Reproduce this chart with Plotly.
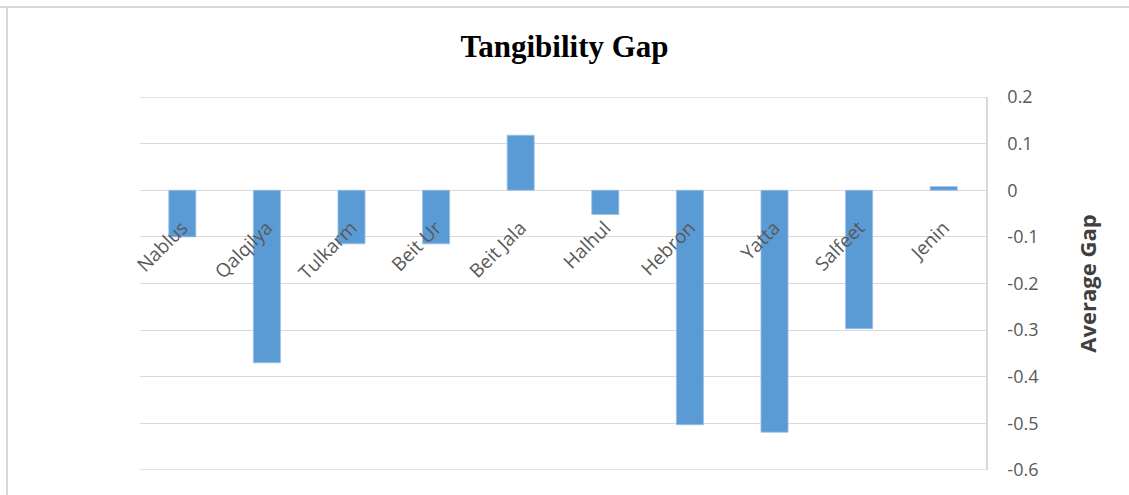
import plotly.graph_objects as go

categories = ["Nablus", "Qalqilya", "Tulkarm", "Beit Ur", "Beit Jala",
              "Halhul", "Hebron", "Yatta", "Salfeet", "Jenin"]
gap_values = [-0.10, -0.37, -0.115, -0.115, 0.118, -0.052, -0.503, -0.519, -0.297, 0.008]
y_tick_vals = [0.2, 0.1, 0, -0.1, -0.2, -0.3, -0.4, -0.5, -0.6]
y_tick_text = ["0.2", "0.1", "0", "-0.1", "-0.2", "-0.3", "-0.4", "-0.5", "-0.6"]

y_min, y_max = -0.6, 0.2

fig = go.Figure()
fig.add_trace(go.Bar(
    x=categories, y=gap_values,
    marker=dict(color="#5B9BD5", line=dict(color="#9DC3E6", width=0.8)),
    width=0.32,
))

grid_color = "#D9D9D9"
edge_grids = [dict(type="line", xref="paper", yref="y", x0=0, x1=1, y0=v, y1=v,
                   line=dict(color=grid_color, width=1.3), layer="below")
              for v in (y_max, y_min)]

fig.update_layout(
    width=1129, height=495,
    margin=dict(l=140, r=143, t=97, b=25),
    paper_bgcolor="white", plot_bgcolor="white",
    showlegend=False,
    title=dict(text="<b>Tangibility Gap</b>", x=0.5, xanchor="center",
               y=1 - 46 / 495, yanchor="middle",
               font=dict(family="Liberation Serif", size=31, color="black")),
    xaxis=dict(
        anchor="free", position=(0 - y_min) / (y_max - y_min),
        tickangle=-45, showgrid=False, zeroline=False, showline=False,
        ticks="outside", ticklen=18, tickcolor="rgba(0,0,0,0)",
        tickfont=dict(family="Open Sans", size=19, color="#595959"),
    ),
    yaxis=dict(
        side="right", range=[y_min, y_max],
        tickvals=y_tick_vals, ticktext=y_tick_text,
        showgrid=True, gridcolor=grid_color, gridwidth=1.3,
        zeroline=False, showline=True, linecolor=grid_color, linewidth=1.5,
        ticklabelstandoff=16,
        tickfont=dict(family="Open Sans", size=18, color="#595959"),
        title=dict(text="<b>Average Gap</b>", standoff=43,
                   font=dict(family="Open Sans", size=22, color="#404040")),
    ),
    shapes=edge_grids + [
        dict(type="line", xref="paper", yref="paper", x0=-140/846, x1=1 + 143/846,
             y0=1 + 90/373, y1=1 + 90/373, line=dict(color=grid_color, width=2)),
        dict(type="line", xref="paper", yref="paper", x0=-133/846, x1=-133/846,
             y0=-25/373, y1=1 + 90/373, line=dict(color=grid_color, width=2)),
    ],
)

fig.write_html("out.html")
